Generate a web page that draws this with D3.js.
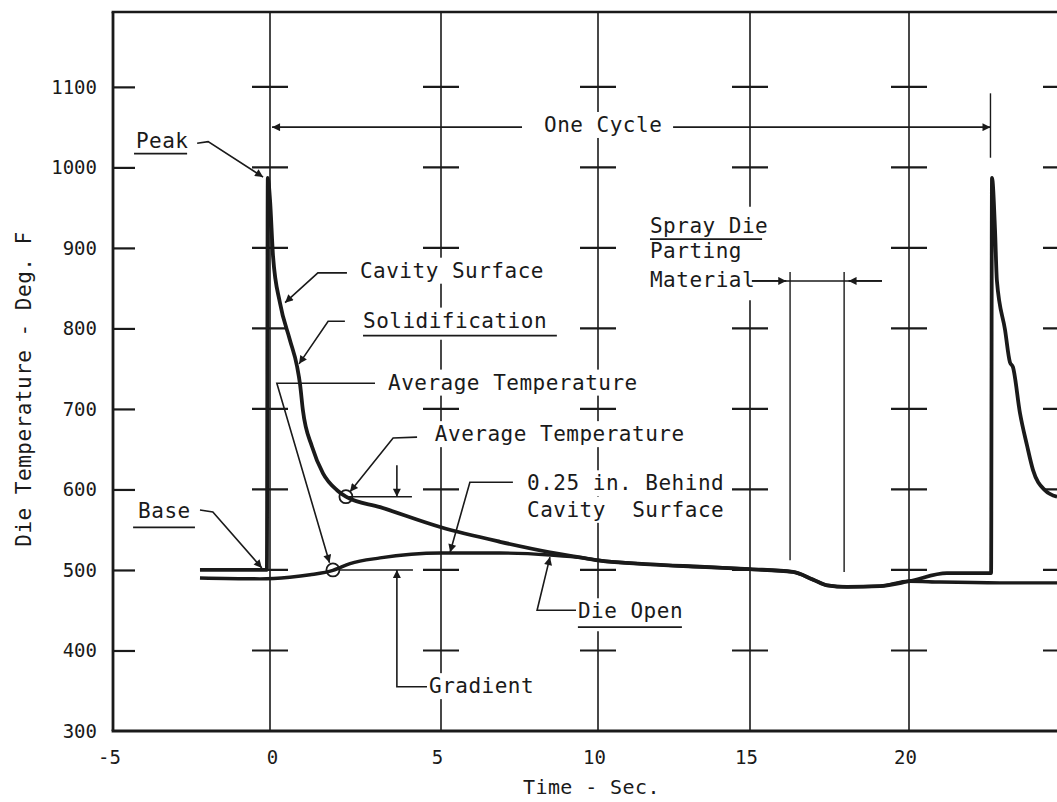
<!DOCTYPE html>
<html><head><meta charset="utf-8">
<script src="https://cdn.jsdelivr.net/npm/d3@7"></script>
<style>
html,body{margin:0;padding:0;background:#fff;}
svg text{font-family:"DejaVu Sans Mono","Liberation Mono",monospace;fill:#1a1a1a;}
</style></head><body>
<svg id="chart" width="1057" height="802"></svg>
<script>
// ---------------- data ----------------
const xTickValues = [-5, 0, 5, 10, 15, 20];
const gridTimes = [0, 5, 10, 15, 20, 25];
const yTickValues = [300, 400, 500, 600, 700, 800, 900, 1000, 1100];
const crossTemps = [400, 500, 600, 700, 800, 900, 1000, 1100];

// Cavity surface temperature (sec, deg F)
const cavityTime = [-2.23, -0.10, -0.07, 0.00, 0.09, 0.29, 0.58, 0.79, 0.88, 0.96, 1.23, 1.55, 1.96, 2.22, 3.22, 5.00, 6.88, 8.47, 9.52, 10.00, 11.71, 13.36, 15.00, 16.35, 16.98, 17.42, 18.05, 19.09, 20.00, 21.25, 22.70, 22.73, 22.83, 22.89, 23.16, 23.32, 23.42, 23.65, 23.88, 24.08, 24.47, 24.87];
const cavityTemp = [500, 500, 987, 960, 889, 832, 786, 753, 730, 699, 653, 620, 599, 591, 578, 553, 535, 522, 515, 512, 507, 504, 501, 497.5, 488, 481, 479, 480, 486, 496, 496, 987, 922, 860, 798, 758, 752, 695, 655, 624, 599, 591];

// 0.25 in. behind cavity surface
const behindTime = [-2.23, -0.32, 0.58, 1.17, 1.84, 2.34, 3.22, 5.00, 6.88, 8.47, 9.52, 10.00, 11.71, 13.36, 15.00, 16.35, 16.98, 17.42, 18.05, 19.09, 20.00, 21.02, 22.99, 24.87];
const behindTemp = [490, 489, 491, 494, 499.5, 508, 515, 521, 521, 518.6, 515, 512, 507, 504, 501, 497.5, 488, 481, 479, 480, 486, 485, 484, 484];

// average temperature points (upper: cavity, lower: behind)
const avgTime = [2.22, 1.84];
const avgTemp = [591, 500];

const cycleStart = 0, cycleEnd = 22.68;
const sprayStart = 16.26, sprayEnd = 17.96;

// ---------------- chart ----------------
const svg = d3.select('#chart');
const INK = '#1a1a1a';
svg.append('rect').attr('width', 1057).attr('height', 802).attr('fill', '#fff');

const x = d3.scaleLinear().domain([-5, 0, 5, 10, 15, 20, 25]).range([113, 270, 441, 598, 750, 909, 1061]);
const y = d3.scaleLinear().domain([300, 1193]).range([731, 12]);

const defs = svg.append('defs');
defs.append('marker').attr('id', 'arr').attr('viewBox', '0 0 10 10')
  .attr('refX', 10).attr('refY', 5).attr('markerWidth', 13).attr('markerHeight', 8)
  .attr('markerUnits', 'userSpaceOnUse').attr('orient', 'auto')
  .append('path').attr('d', 'M0,0 L10,5 L0,10 z').attr('fill', INK);

// grid gaps (deg F ranges where the vertical line is interrupted)
const gridGaps = {15: [[835, 951]]};
const inGap = (t, v) => (gridGaps[t] || []).some(g => v >= g[0] && v <= g[1]);

const gGrid = svg.append('g');
gridTimes.forEach(t => {
  let segs = [[300, 1193]];
  (gridGaps[t] || []).forEach(g => {
    segs = segs.flatMap(s => (g[0] > s[0] && g[1] < s[1]) ? [[s[0], g[0]], [g[1], s[1]]] : [s]);
  });
  segs.forEach(s => gGrid.append('line')
    .attr('x1', x(t)).attr('x2', x(t)).attr('y1', y(s[0])).attr('y2', y(s[1]))
    .attr('stroke', INK).attr('stroke-width', 1.6));
  crossTemps.forEach(v => {
    if (inGap(t, v)) return;
    gGrid.append('line').attr('x1', x(t) - 18).attr('x2', x(t) + 18)
      .attr('y1', y(v)).attr('y2', y(v)).attr('stroke', INK).attr('stroke-width', 2.2);
  });
});

// axes
const fmt = d => String(d);
const yAxis = d3.axisLeft(y).tickValues(yTickValues).tickSize(-22).tickPadding(16).tickFormat(fmt);
const gy = svg.append('g').attr('transform', `translate(${x(-5)},0)`).call(yAxis);
gy.select('.domain').remove();
gy.selectAll('.tick line').attr('stroke', INK).attr('stroke-width', 2.2)
  .attr('display', d => d === 300 ? 'none' : null);
gy.selectAll('.tick text').attr('font-size', 19).attr('dy', '0.34em')
  .attr('font-family', '"DejaVu Sans Mono", monospace').attr('fill', INK);

const xAxis = d3.axisBottom(x).tickValues(xTickValues).tickSize(0).tickPadding(20).tickFormat(fmt);
const gx = svg.append('g').attr('transform', `translate(0,${y(300)})`).call(xAxis);
gx.select('.domain').remove();
gx.selectAll('.tick text').attr('font-size', 19).attr('dx', d => d === 0 ? 2 : -4)
  .attr('font-family', '"DejaVu Sans Mono", monospace').attr('fill', INK);

// frame: left axis, bottom axis, top border
svg.append('line').attr('x1', x(-5)).attr('x2', x(-5)).attr('y1', y(1193)).attr('y2', y(300))
  .attr('stroke', INK).attr('stroke-width', 2.8);
svg.append('line').attr('x1', x(-5) - 1.4).attr('x2', 1057).attr('y1', y(300)).attr('y2', y(300))
  .attr('stroke', INK).attr('stroke-width', 2.8);
svg.append('line').attr('x1', x(-5) - 1.4).attr('x2', 1057).attr('y1', y(1193)).attr('y2', y(1193))
  .attr('stroke', INK).attr('stroke-width', 2.6);

// axis titles
svg.append('text').attr('transform', `translate(31,${389}) rotate(-90)`)
  .attr('text-anchor', 'middle').attr('font-size', 21).attr('letter-spacing', 0.5)
  .text('Die Temperature - Deg. F');
svg.append('text').attr('x', 523).attr('y', 794).attr('font-size', 20).attr('letter-spacing', 0.4)
  .text('Time - Sec.');

// ---------------- annotations ----------------
const gHalo = svg.append('g');
const gText = svg.append('g');
function label(str, t, v) {
  const tx = gText.append('text').attr('x', x(t)).attr('y', y(v)).attr('font-size', 21)
    .attr('letter-spacing', 0.5).attr('xml:space', 'preserve')
    .style('white-space', 'pre').text(str);
  const b = tx.node().getBBox();
  gHalo.append('rect').attr('x', b.x - 3).attr('y', b.y - 1).attr('width', b.width + 6)
    .attr('height', b.height + 2).attr('fill', '#fff');
  return tx;
}
function underline(t0, t1, v) {
  gHalo.append('line').attr('x1', x(t0)).attr('x2', x(t1)).attr('y1', y(v)).attr('y2', y(v))
    .attr('stroke', '#fff').attr('stroke-width', 8);
  gText.append('line').attr('x1', x(t0)).attr('x2', x(t1)).attr('y1', y(v)).attr('y2', y(v))
    .attr('stroke', INK).attr('stroke-width', 1.8);
}

label('Peak', -4.27, 1024); underline(-4.33, -2.64, 1017);
label('Base', -4.20, 565); underline(-4.36, -2.39, 553);
label('Cavity Surface', 2.63, 863);
label('Solidification', 2.72, 801); underline(2.72, 8.69, 791);
label('Average Temperature', 3.45, 724);
label('Average Temperature', 4.82, 660);
label('0.25 in. Behind', 7.74, 599);
label('Cavity  Surface', 7.74, 566);
label('Spray Die', 11.71, 919); underline(11.71, 15.38, 911);
label('Parting', 11.71, 888);
label('Material', 11.71, 852);
label('Die Open', 9.36, 440); underline(9.36, 12.76, 429);
label('Gradient', 4.65, 347);
label('One Cycle', 8.28, 1044);

const gLead = svg.append('g').attr('fill', 'none').attr('stroke', INK).attr('stroke-width', 1.6);
const pline = d3.line().x(d => x(d[0])).y(d => y(d[1]));
function leader(pts, arrow = true, w = 1.6) {
  const p = gLead.append('path').attr('d', pline(pts)).attr('stroke-width', w);
  if (arrow) p.attr('marker-end', 'url(#arr)');
  return p;
}
leader([[-2.32, 1030], [-1.97, 1032], [-0.22, 988]]);
leader([[-2.23, 574.5], [-1.82, 572], [-0.26, 502.5]]);
leader([[2.25, 869], [1.40, 869], [0.44, 832]]);
leader([[2.19, 809], [1.70, 809], [0.85, 756]]);
leader([[3.07, 732], [0.20, 732], [avgTime[1] - 0.1, avgTemp[1] + 9]]);
leader([[4.30, 665], [3.60, 664], [avgTime[0] + 0.12, avgTemp[0] + 6]]);
leader([[7.29, 609], [5.92, 609], [5.29, 522]]);
leader([[9.30, 450], [8.06, 450], [8.47, 516]]);

// gradient dimension
leader([[avgTime[0], avgTemp[0]], [4.15, avgTemp[0]]], false, 1.4);
leader([[avgTime[1] + 0.2, avgTemp[1]], [4.18, avgTemp[1]]], false, 1.4);
leader([[3.71, 630], [3.71, avgTemp[0]]]);
leader([[4.59, 355], [3.71, 355], [3.71, avgTemp[1]]]);

// one cycle
leader([[7.58, 1050], [cycleStart + 0.06, 1050]]);
leader([[12.47, 1050], [cycleEnd, 1050]]);
leader([[cycleEnd, 1092], [cycleEnd, 1012]], false, 1.4);

// spray die parting material
leader([[15.06, 859], [19.15, 859]], false, 1.5);
leader([[15.06, 859], [sprayStart - 0.12, 859]]);
leader([[19.15, 859], [sprayEnd + 0.14, 859]]);
leader([[sprayStart, 870], [sprayStart, 512]], false, 1.4);
leader([[sprayEnd, 870], [sprayEnd, 497.5]], false, 1.4);

// ---------------- curves ----------------
const curve = d3.line().x(d => x(d[0])).y(d => y(d[1])).curve(d3.curveMonotoneX);
const behind = behindTime.map((t, i) => [t, behindTemp[i]]);
const cavity = cavityTime.map((t, i) => [t, cavityTemp[i]]);
svg.append('path').attr('d', curve(behind)).attr('fill', 'none').attr('stroke', INK)
  .attr('stroke-width', 3.4).attr('stroke-linejoin', 'round');
svg.append('path').attr('d', curve(cavity)).attr('fill', 'none').attr('stroke', INK)
  .attr('stroke-width', 3.8).attr('stroke-linejoin', 'round');

svg.append('g').selectAll('circle').data(avgTime).join('circle')
  .attr('cx', d => x(d)).attr('cy', (d, i) => y(avgTemp[i])).attr('r', 6.5)
  .attr('fill', 'none').attr('stroke', INK).attr('stroke-width', 1.8);
</script>
</body></html>
